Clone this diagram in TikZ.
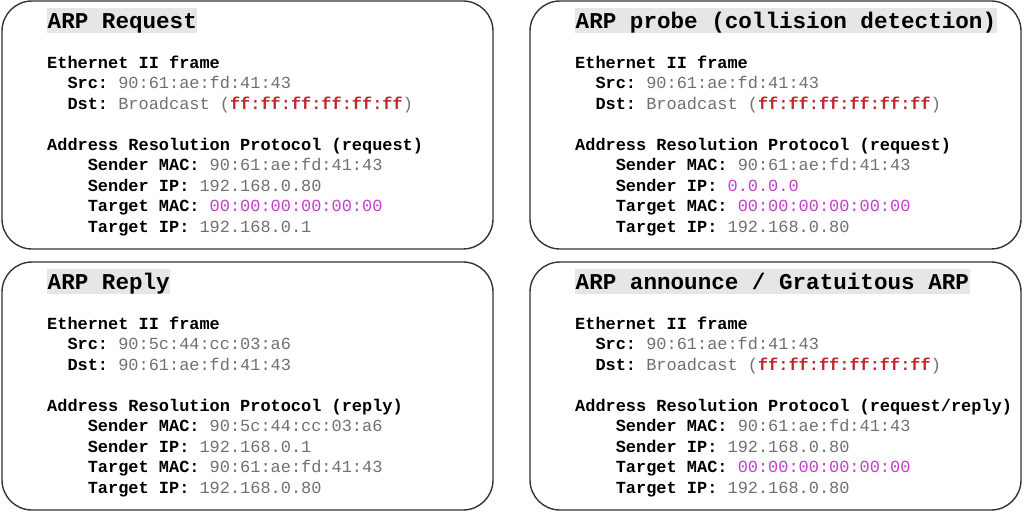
\documentclass[tikz,border=0pt]{standalone}
\usepackage{fontspec}
\setmainfont{Liberation Mono}
\frenchspacing

\definecolor{valgray}{HTML}{707070}
\definecolor{bcastred}{HTML}{C0282D}
\definecolor{zeromag}{HTML}{C040C8}
\definecolor{edgegray}{HTML}{333333}
\definecolor{titlebg}{HTML}{E6E6E6}

\newcommand{\fld}[2]{\textbf{#1:} \textcolor{valgray}{#2}}
\newcommand{\bcast}{\textcolor{valgray}{Broadcast (}\textcolor{bcastred}{\textbf{ff:ff:ff:ff:ff:ff}}\textcolor{valgray}{)}}
\newcommand{\zeromac}{\textcolor{zeromag}{00:00:00:00:00:00}}
\newcommand{\indA}{\hspace*{1.2em}}
\newcommand{\indB}{\hspace*{2.4em}}

\tikzset{
    panel/.style={draw=edgegray, line width=1.4pt, rounded corners=30pt},
    title/.style={anchor=base west, fill=titlebg, inner xsep=0.5pt, inner ysep=0pt,
        text height=20pt, text depth=5pt, font=\fontsize{22.6}{26}\selectfont\bfseries},
    body/.style={anchor=base west, align=left, inner sep=0pt,
        font=\fontsize{16.93}{20.45}\selectfont\frenchspacing}
}

\begin{document}
\begin{tikzpicture}[x=1pt, y=-1pt]

            \useasboundingbox (0,0) rectangle (1024,512);

            % ==========================================
            % 1. ARP Request
            % ==========================================
            \begin{scope}
                \draw[panel] (2,1) rectangle (493,249);
                \node[title] (reqtitle) at (47,28) {ARP Request};
                % base anchor = baseline of the last line
                \node[body] (reqbody) at (47,232) {\textbf{Ethernet II frame}\\
                    \indA\fld{Src}{90:61:ae:fd:41:43}\\
                    \indA\fld{Dst}{\bcast}\\[20.45pt]
                    \textbf{Address Resolution Protocol (request)}\\
                    \indB\fld{Sender MAC}{90:61:ae:fd:41:43}\\
                    \indB\fld{Sender IP}{192.168.0.80}\\
                    \indB\fld{Target MAC}{\zeromac}\\
                    \indB\fld{Target IP}{192.168.0.1}};
            \end{scope}

            % ==========================================
            % 2. ARP probe
            % ==========================================
            \begin{scope}[shift={(528,0)}]
                \draw[panel] (2,1) rectangle (493,249);
                \node[title] (probetitle) at (47,28) {ARP probe (collision detection)};
                \node[body] (probebody) at (47,232) {\textbf{Ethernet II frame}\\
                    \indA\fld{Src}{90:61:ae:fd:41:43}\\
                    \indA\fld{Dst}{\bcast}\\[20.45pt]
                    \textbf{Address Resolution Protocol (request)}\\
                    \indB\fld{Sender MAC}{90:61:ae:fd:41:43}\\
                    \indB\fld{Sender IP}{\textcolor{zeromag}{0.0.0.0}}\\
                    \indB\fld{Target MAC}{\zeromac}\\
                    \indB\fld{Target IP}{192.168.0.80}};
            \end{scope}

            % ==========================================
            % 3. ARP Reply
            % ==========================================
            \begin{scope}[shift={(0,261)}]
                \draw[panel] (2,1) rectangle (493,249);
                \node[title] (replytitle) at (47,28) {ARP Reply};
                \node[body] (replybody) at (47,232) {\textbf{Ethernet II frame}\\
                    \indA\fld{Src}{90:5c:44:cc:03:a6}\\
                    \indA\fld{Dst}{90:61:ae:fd:41:43}\\[20.45pt]
                    \textbf{Address Resolution Protocol (reply)}\\
                    \indB\fld{Sender MAC}{90:5c:44:cc:03:a6}\\
                    \indB\fld{Sender IP}{192.168.0.1}\\
                    \indB\fld{Target MAC}{90:61:ae:fd:41:43}\\
                    \indB\fld{Target IP}{192.168.0.80}};
            \end{scope}

            % ==========================================
            % 4. ARP announce / Gratuitous ARP
            % ==========================================
            \begin{scope}[shift={(528,261)}]
                \draw[panel] (2,1) rectangle (493,249);
                \node[title] (anntitle) at (47,28) {ARP announce / Gratuitous ARP};
                \node[body] (annbody) at (47,232) {\textbf{Ethernet II frame}\\
                    \indA\fld{Src}{90:61:ae:fd:41:43}\\
                    \indA\fld{Dst}{\bcast}\\[20.45pt]
                    \textbf{Address Resolution Protocol (request/reply)}\\
                    \indB\fld{Sender MAC}{90:61:ae:fd:41:43}\\
                    \indB\fld{Sender IP}{192.168.0.80}\\
                    \indB\fld{Target MAC}{\zeromac}\\
                    \indB\fld{Target IP}{192.168.0.80}};
            \end{scope}

        \end{tikzpicture}
\end{document}
